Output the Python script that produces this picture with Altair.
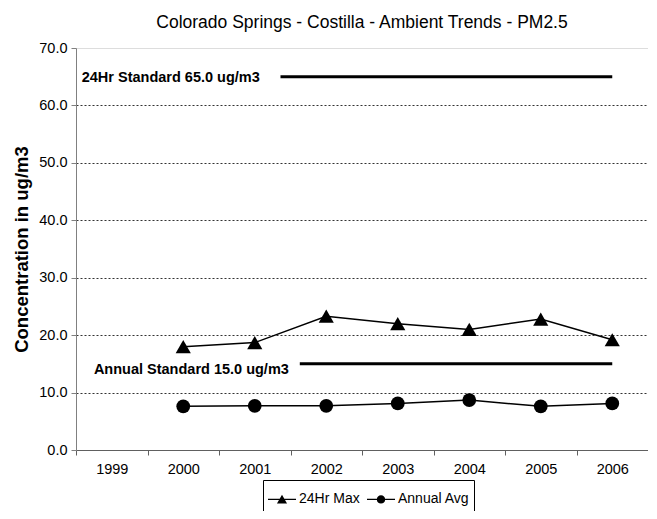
import altair as alt
import pandas as pd

# ---- data ----
years = ["1999", "2000", "2001", "2002", "2003", "2004", "2005", "2006"]
max24 = [None, 18.0, 18.7, 23.3, 22.0, 21.0, 22.8, 19.2]
annual = [None, 7.6, 7.7, 7.7, 8.1, 8.7, 7.6, 8.1]
series_names = ["24Hr Max", "Annual Avg"]

std_labels = ["24Hr Standard 65.0 ug/m3", "Annual Standard 15.0 ug/m3"]
std_values = [65.0, 15.0]
std_start = [2001.36, 2001.63]
std_end = [2006.0, 2006.0]
std_label_x = [1998.58, 1998.75]
std_label_y = [64.8, 13.9]

title_text = "Colorado Springs - Costilla - Ambient Trends - PM2.5"
y_title = "Concentration in ug/m3"

FONT = "Liberation Sans"

rows = []
for y, a, b in zip(years, max24, annual):
    if a is not None:
        rows.append({"year": y, "series": series_names[0], "value": a})
    if b is not None:
        rows.append({"year": y, "series": series_names[1], "value": b})
df = pd.DataFrame(rows)

std_df = pd.DataFrame({
    "label": std_labels, "value": std_values, "start": std_start,
    "end": std_end, "lx": std_label_x, "ly": std_label_y,
})

x_enc = alt.X(
    "year:O",
    scale=alt.Scale(type="band", domain=years, paddingInner=0, paddingOuter=0),
    axis=alt.Axis(
        title=None, labelAngle=0, tickBand="extent", grid=False,
        labelFont=FONT, labelFontSize=14.5, labelColor="black",
        domainColor="#606060", tickColor="#606060", tickSize=5,
        labelPadding=7,
    ),
)
y_scale = alt.Scale(domain=[0, 70], nice=False)
y_enc = alt.Y(
    "value:Q", scale=y_scale,
    axis=alt.Axis(
        title=y_title, values=[0, 10, 20, 30, 40, 50, 60, 70], format=".1f",
        labelFont=FONT, labelFontSize=14.5, labelColor="black",
        titleFont=FONT, titleFontSize=18.5, titleFontWeight="bold", titleColor="black",
        titlePadding=7,
        domainColor="#808080", tickColor="#808080", tickSize=5, labelPadding=4,
        grid=True, gridColor="#333333", gridDash=[2, 2], gridWidth=1,
        gridOpacity={"condition": {"test": "datum.value == 70 || datum.value == 0", "value": 0}, "value": 1},
    ),
)

lines = alt.Chart(df).mark_line(color="black", strokeWidth=1.5).encode(
    x=x_enc, y=y_enc, detail="series:N"
)
points = alt.Chart(df).mark_point(filled=True, color="black", opacity=1).encode(
    x=x_enc, y=alt.Y("value:Q", scale=y_scale),
    shape=alt.Shape("series:N", scale=alt.Scale(domain=series_names, range=["triangle-up", "circle"]), legend=None),
    size=alt.Size("series:N", scale=alt.Scale(domain=series_names, range=[230, 190]), legend=None),
)

# legend symbols: a thin filled bar (the line) plus the marker, all filled
tri_path = "M-1,-0.05L1,-0.05L1,0.05L-1,0.05ZM-0.36,0.3L0,-0.34L0.36,0.3Z"
circ_path = ("M-1,-0.05L1,-0.05L1,0.05L-1,0.05Z"
             "M-0.3,0A0.3,0.3 0 1,1 0.3,0A0.3,0.3 0 1,1 -0.3,0Z")
legend_layer = alt.Chart(df).mark_point(filled=True, color="black", opacity=0).encode(
    x=x_enc, y=alt.Y("value:Q", scale=y_scale),
    shape=alt.Shape(
        "series:N",
        scale=alt.Scale(domain=series_names, range=[tri_path, circ_path]),
        legend=alt.Legend(
            title=None, orient="none", legendX=187, legendY=432, direction="horizontal",
            strokeColor="black", fillColor="white", padding=4, cornerRadius=0,
            symbolSize=784, symbolFillColor="black", symbolOpacity=1,
            labelFont=FONT, labelFontSize=14, labelColor="black",
            columnPadding=4, labelOffset=2,
        ),
    ),
)

ord_layer = alt.layer(lines, points, legend_layer).resolve_scale(
    shape="independent", size="independent"
)

xq = alt.Scale(domain=[1998.5, 2006.5], nice=False, zero=False)
std_rules = alt.Chart(std_df).mark_rule(color="black", strokeWidth=3).encode(
    x=alt.X("start:Q", scale=xq, axis=None), x2="end:Q",
    y=alt.Y("value:Q", scale=y_scale),
)
std_text = alt.Chart(std_df).mark_text(
    align="left", baseline="middle", font=FONT, fontSize=14.5, fontWeight="bold", color="black"
).encode(
    x=alt.X("lx:Q", scale=xq, axis=None),
    y=alt.Y("ly:Q", scale=y_scale),
    text="label:N",
)
std_layer = alt.layer(std_rules, std_text)

chart = alt.layer(ord_layer, std_layer).resolve_scale(
    x="independent"
).properties(
    width=572, height=402,
    padding={"left": 68, "top": 40, "right": 0, "bottom": 61},
    autosize=alt.AutoSizeParams(type="none"),
    title=alt.Title(title_text, font=FONT, fontSize=17.5, fontWeight="normal", color="black",
                    anchor="middle", offset=9),
).configure_view(stroke="#909090", strokeWidth=1).configure(background="white")

chart.save("out.html", embed_options={"renderer": "svg", "actions": False})
